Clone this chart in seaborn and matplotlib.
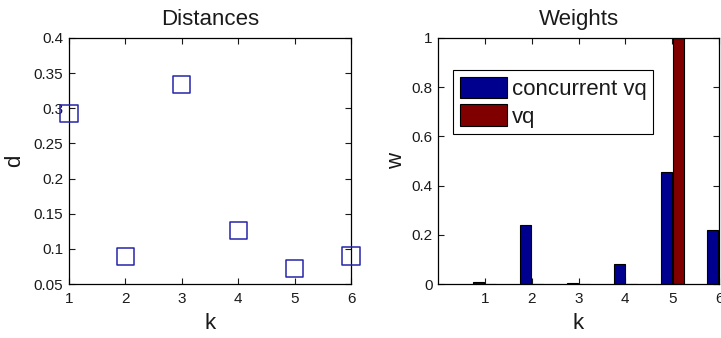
import matplotlib
matplotlib.use("Agg")
import matplotlib.pyplot as plt
import seaborn as sns
import pandas as pd

# ---- data ----
k_values = [1, 2, 3, 4, 5, 6]
distances = [0.293, 0.089, 0.334, 0.126, 0.072, 0.090]
weights_concurrent = [0.010, 0.240, 0.005, 0.083, 0.455, 0.220]
weights_vq = [0.0, 0.0, 0.0, 0.0, 1.0, 0.0]
series_names = ["concurrent vq", "vq"]
left_yticks = [0.05, 0.1, 0.15, 0.2, 0.25, 0.3, 0.35, 0.4]
left_yticklabels = ["0.05", "0.1", "0.15", "0.2", "0.25", "0.3", "0.35", "0.4"]
right_yticks = [0, 0.2, 0.4, 0.6, 0.8, 1.0]
right_yticklabels = ["0", "0.2", "0.4", "0.6", "0.8", "1"]

sns.set_theme(style="white")
plt.rcParams["font.family"] = ["Liberation Sans", "DejaVu Sans"]

W, H = 721, 338
fig = plt.figure(figsize=(W / 100, H / 100), dpi=100)

def px_axes(l, t, r, b):
    return fig.add_axes([l / W, 1 - b / H, (r - l) / W, (b - t) / H])

ax1 = px_axes(69, 38, 351, 284)
ax2 = px_axes(438, 38, 719, 284)

text_color = "#1a1a1a"
blue = "#00008f"
red = "#800000"

# ---- left: distances ----
df1 = pd.DataFrame({"k": k_values, "d": distances})
sns.scatterplot(data=df1, x="k", y="d", marker="s", s=155, facecolor="none",
                edgecolor="#2424a8", linewidth=1.1, ax=ax1, clip_on=False, zorder=5)
ax1.set_xlim(1, 6)
ax1.set_ylim(0.05, 0.4)
ax1.set_xticks(k_values)
ax1.set_xticklabels([str(v) for v in k_values])
ax1.set_yticks(left_yticks)
ax1.set_yticklabels(left_yticklabels)
ax1.set_title("Distances", fontsize=16, pad=9, color=text_color)
ax1.set_xlabel("k", fontsize=16, color=text_color, labelpad=5)
ax1.set_ylabel("d", fontsize=16, color=text_color, labelpad=6)

# ---- right: weights ----
df2 = pd.DataFrame({
    "k": k_values * 2,
    "w": weights_concurrent + weights_vq,
    "series": [series_names[0]] * len(k_values) + [series_names[1]] * len(k_values),
})
sns.barplot(data=df2, x="k", y="w", hue="series", native_scale=True,
            width=0.52, gap=0.1, palette=[blue, red], edgecolor="black",
            linewidth=0.8, errorbar=None, ax=ax2, saturation=1)
ax2.set_xlim(0, 6)
ax2.set_ylim(0, 1)
ax2.set_xticks(k_values)
ax2.set_xticklabels([str(v) for v in k_values])
ax2.set_yticks(right_yticks)
ax2.set_yticklabels(right_yticklabels)
ax2.set_title("Weights", fontsize=16, pad=9, color=text_color)
ax2.set_xlabel("k", fontsize=16, color=text_color, labelpad=5)
ax2.set_ylabel("w", fontsize=16, color=text_color, labelpad=3)
leg = ax2.legend(loc="upper left", bbox_to_anchor=(0.053, 0.87), fontsize=16,
                 frameon=True, fancybox=False, edgecolor="black", framealpha=1,
                 handlelength=2.15, handleheight=1.1, handletextpad=0.2,
                 borderpad=0.3, labelspacing=0.2, borderaxespad=0)
leg.get_frame().set_linewidth(0.8)
for t in leg.get_texts():
    t.set_color(text_color)

for ax in (ax1, ax2):
    for s in ax.spines.values():
        s.set_visible(True)
        s.set_color("black")
        s.set_linewidth(0.9)
    ax.tick_params(direction="in", length=4, width=0.8, colors=text_color,
                   labelsize=11, top=True, right=True, bottom=True, left=True,
                   pad=4)
    ax.tick_params(axis="x", pad=6)
    ax.grid(False)
    ax.set_facecolor("white")

fig.savefig("out.png", dpi=100, facecolor="white")
